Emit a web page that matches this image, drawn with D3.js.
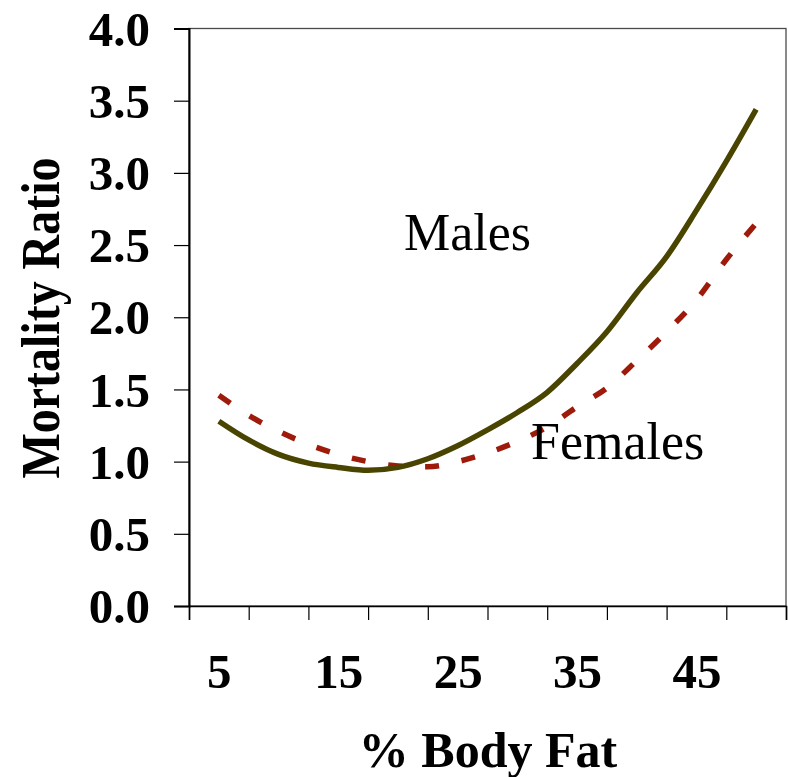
<!DOCTYPE html>
<html>
<head>
<meta charset="utf-8">
<script src="https://cdn.jsdelivr.net/npm/d3@7"></script>
<style>
  html, body { margin: 0; padding: 0; background: #fff; }
  svg { display: block; }
</style>
</head>
<body>
<script>
// ---- data ----
const bodyFat = [5, 7.5, 10, 12.5, 15, 17.5, 20, 22.5, 25, 27.5, 30, 32.5, 35, 37.5, 40, 42.5, 45, 47.5, 50];
const males   = [1.28, 1.15, 1.05, 0.99, 0.96, 0.94, 0.96, 1.02, 1.11, 1.22, 1.34, 1.48, 1.68, 1.90, 2.17, 2.42, 2.74, 3.08, 3.44];
const females = [1.46, 1.32, 1.21, 1.12, 1.05, 1.00, 0.97, 0.965, 1.00, 1.06, 1.14, 1.24, 1.38, 1.51, 1.70, 1.90, 2.12, 2.40, 2.65];
const xTickBoundaries = [2.5, 7.5, 12.5, 17.5, 22.5, 27.5, 32.5, 37.5, 42.5, 47.5, 52.5];
const xTickLabels = [5, 15, 25, 35, 45];
const yTicks = [0, 0.5, 1, 1.5, 2, 2.5, 3, 3.5, 4];
const seriesLabels = ["Males", "Females"];
const xTitle = "% Body Fat";
const yTitle = "Mortality Ratio";

(function () {
// ---- layout ----
const W = 788, H = 777;
const pLeft = 189, pRight = 786, pTop = 28.5, pBottom = 606;
const serif = "'Liberation Serif', 'Times New Roman', Times, serif";

const svg = d3.select("body").append("svg").attr("width", W).attr("height", H);

const x = d3.scaleLinear().domain([2.5, 52.5]).range([pLeft, pRight]);
const y = d3.scaleLinear().domain([0, 4]).range([pBottom, pTop]);

// plot box (top/right border)
svg.append("rect")
  .attr("x", pLeft).attr("y", pTop)
  .attr("width", pRight - pLeft).attr("height", pBottom - pTop)
  .attr("fill", "none").attr("stroke", "#4a4a4a").attr("stroke-width", 1.3);

// y axis
const yAxis = svg.append("g").attr("transform", `translate(${pLeft},0)`)
  .call(d3.axisLeft(y).tickValues(yTicks).tickSize(15).tickPadding(24)
    .tickFormat(d3.format(".1f")));
yAxis.select(".domain").attr("stroke", "#000").attr("stroke-width", 2);
yAxis.selectAll(".tick line").attr("stroke", "#000").attr("stroke-width", 1.2);
yAxis.selectAll(".tick text")
  .attr("font-family", serif).attr("font-weight", "bold").attr("font-size", 49)
  .attr("fill", "#000").attr("dy", "0.34em");

// x axis: tick marks between categories
const xAxis = svg.append("g").attr("transform", `translate(0,${pBottom})`)
  .call(d3.axisBottom(x).tickValues(xTickBoundaries).tickSize(14).tickFormat(""));
xAxis.select(".domain").attr("stroke", "#000").attr("stroke-width", 1.6);
xAxis.selectAll(".tick line").attr("stroke", "#000").attr("stroke-width", 1.2);

// x axis labels
const xLab = svg.append("g").attr("transform", `translate(0,${pBottom})`)
  .call(d3.axisBottom(x).tickValues(xTickLabels).tickSize(0).tickFormat(d3.format("d")));
xLab.select(".domain").remove();
xLab.selectAll(".tick text")
  .attr("font-family", serif).attr("font-weight", "bold").attr("font-size", 49)
  .attr("fill", "#000").attr("dy", null).attr("y", 82);

// lines
const line = (vals) => d3.line()
  .x((d, i) => x(bodyFat[i]))
  .y(d => y(d))
  .curve(d3.curveMonotoneX)(vals);

svg.append("path")
  .attr("d", line(females))
  .attr("fill", "none").attr("stroke", "#9e1a0a")
  .attr("stroke-width", 5.5).attr("stroke-dasharray", "14,23");

svg.append("path")
  .attr("d", line(males))
  .attr("fill", "none").attr("stroke", "#494400")
  .attr("stroke-width", 5.5).attr("stroke-linejoin", "round");

// series labels
svg.append("text").attr("x", 404).attr("y", 250)
  .attr("font-family", serif).attr("font-size", 52).attr("fill", "#000")
  .text(seriesLabels[0]);
svg.append("text").attr("x", 531).attr("y", 459)
  .attr("font-family", serif).attr("font-size", 52).attr("fill", "#000")
  .text(seriesLabels[1]);

// axis titles
svg.append("text").attr("x", 488).attr("y", 767)
  .attr("text-anchor", "middle")
  .attr("font-family", serif).attr("font-weight", "bold").attr("font-size", 50)
  .attr("fill", "#000").text(xTitle);

svg.append("text")
  .attr("transform", "translate(59,318) rotate(-90) scale(1,1.15)")
  .attr("text-anchor", "middle")
  .attr("font-family", serif).attr("font-weight", "bold").attr("font-size", 48)
  .attr("fill", "#000").text(yTitle);
})();
</script>
</body>
</html>
